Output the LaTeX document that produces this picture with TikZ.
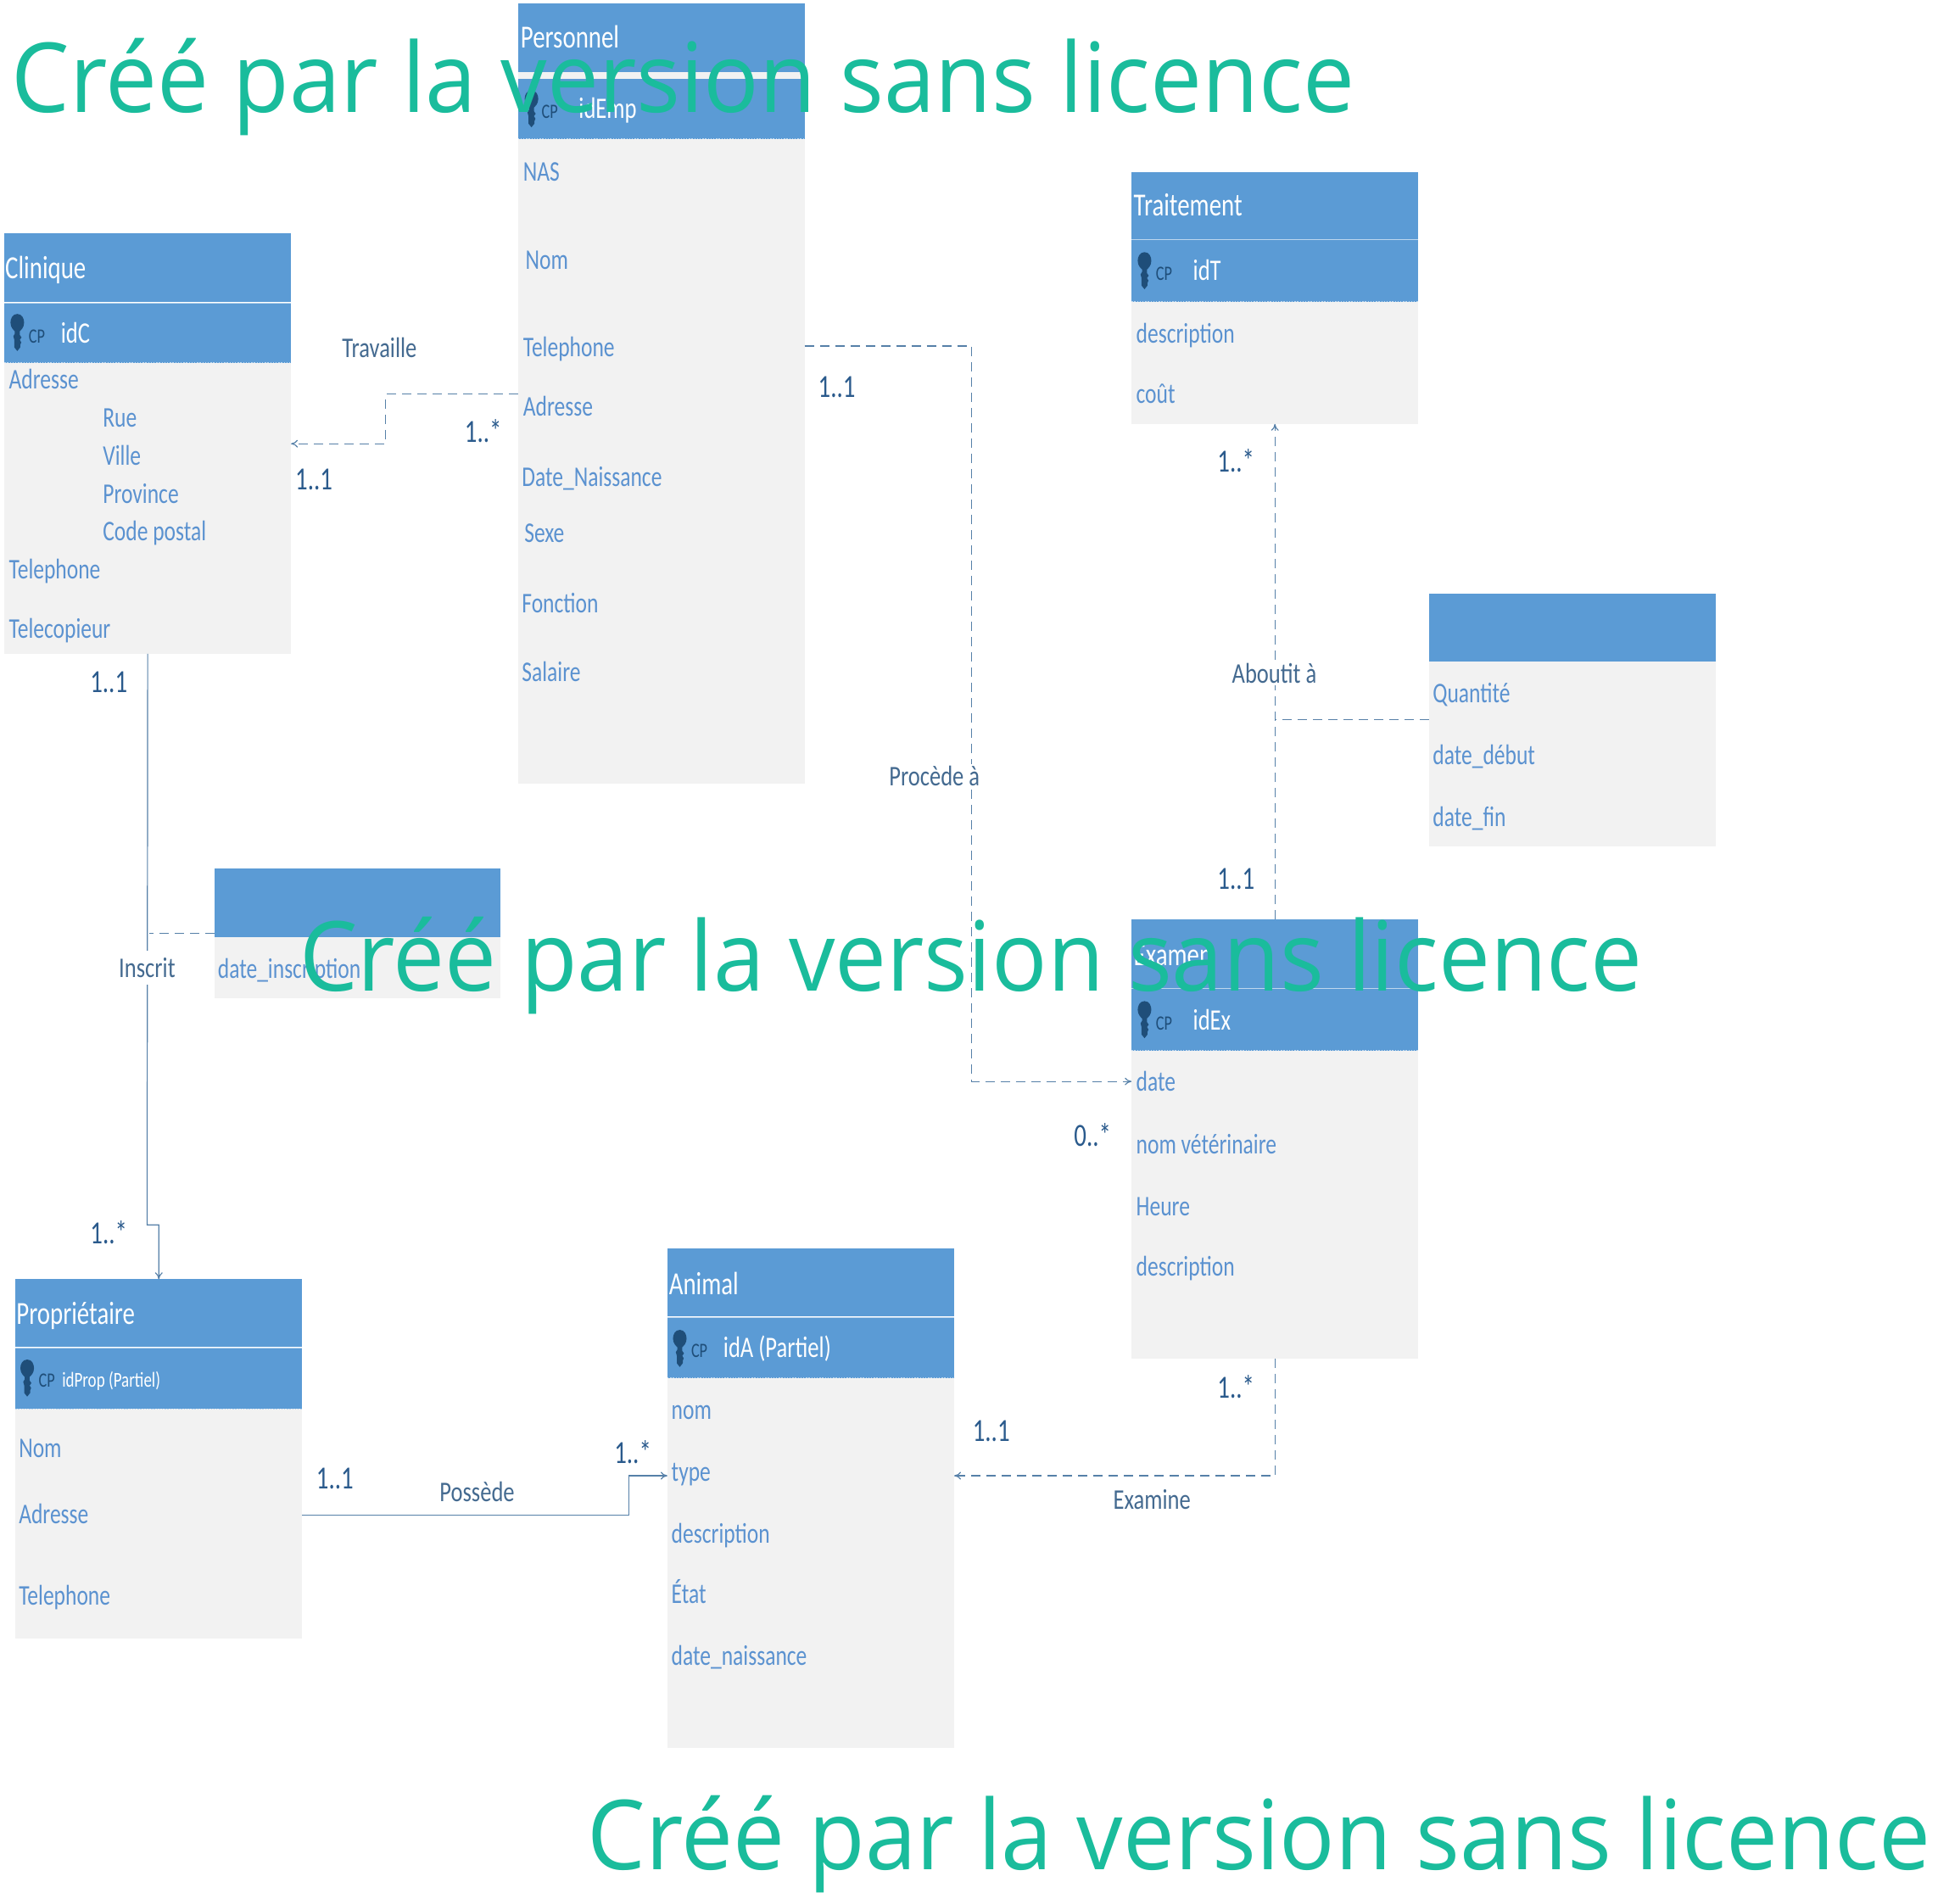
\documentclass[tikz,border=0pt]{standalone}
\usepackage{fontspec}
\usetikzlibrary{arrows.meta}
\setmainfont{Carlito}
\newfontfamily\condfont[FakeStretch=0.76]{Carlito}
\newfontfamily\labelfont[FakeStretch=0.79]{Carlito}
\newfontfamily\wmfont[FakeStretch=0.954]{Open Sans}
\definecolor{hdrblue}{HTML}{5B9BD5}
\definecolor{bodygrey}{HTML}{F2F2F2}
\definecolor{attrblue}{HTML}{5B92D0}
\definecolor{labelslate}{HTML}{446A90}
\definecolor{multblue}{HTML}{2A5A8C}
\definecolor{linkblue}{HTML}{5680A8}
\definecolor{keyblue}{HTML}{1F4E79}
\definecolor{wmgreen}{HTML}{1ABC9C}
\def\uu{0.72865pt}
\newcommand{\zone}[6]{\node[#6,inner sep=0pt,outer sep=0pt,minimum width={(#4-#2)*\uu},minimum height={(#5-#3)*\uu}] (#1) at ({(#2+#4)/2},{(#3+#5)/2}) {};}
\newcommand{\idedges}[1]{\draw[idrule] (#1.north west) -- (#1.north east); \draw[iddots] (#1.south west) -- (#1.south east);}
\tikzset{
  x=\uu,y=-\uu,
  hdr/.style={fill=hdrblue},
  idband/.style={fill=hdrblue},
  bodyzone/.style={fill=bodygrey},
  idrule/.style={draw=white!60!hdrblue,line width=0.5pt},
  iddots/.style={draw=white!60!hdrblue,line width=0.5pt,dash pattern=on 0.7pt off 0.9pt},
  basetext/.style={anchor=west,inner sep=0pt,text height=15pt,text depth=4pt},
  title/.style={basetext,yshift=-0.7pt,text=white,font=\condfont\fontsize{19}{22}\selectfont},
  idtext/.style={basetext,text=white,font=\condfont\fontsize{17.5}{20}\selectfont},
  cptext/.style={basetext,text=keyblue,font=\condfont\fontsize{12}{14}\selectfont},
  attr/.style={basetext,text=attrblue,font=\condfont\fontsize{16.8}{20}\selectfont},
  linklabel/.style={inner sep=1pt,text=labelslate,font=\labelfont\fontsize{16.8}{20}\selectfont},
  masklabel/.style={linklabel,fill=white},
  mult/.style={inner sep=0pt,text=multblue,font=\condfont\fontsize{19}{22}\selectfont},
  solidlink/.style={draw=linkblue,line width=0.6pt},
  dashlink/.style={solidlink,dash pattern=on 5.5pt off 3.5pt},
  tip/.style={-{To[length=4pt,width=4.5pt]}},
  watermark/.style={anchor=base west,inner sep=0pt,text=wmgreen,font=\wmfont\fontsize{57}{60}\selectfont},
  keyicon/.pic={
    \fill[keyblue] (0,-15) .. controls (4,-15) and (5.5,-11) .. (5.5,-8) .. controls (5.5,-4) and (3,-2) .. (2,-1)
      -- (2,2) -- (3.4,4) -- (2,6) -- (3.2,8) -- (2.4,10) -- (2.4,12) -- (0,15) -- (-2.4,12) -- (-2.4,6) -- (-3.2,3) -- (-2,1) -- (-2,-1)
      .. controls (-3,-2) and (-5.5,-4) .. (-5.5,-8) .. controls (-5.5,-11) and (-4,-15) .. (0,-15) -- cycle;
  }
}
\begin{document}
\begin{tikzpicture}
\useasboundingbox (0,0) rectangle (1568,1540.5);

% Personnel
\zone{pHead}{419}{3}{651}{58}{hdr}
\zone{pGap}{419}{58}{651}{64}{bodyzone}
\zone{pId}{419}{64}{651}{112.5}{idband}
\zone{pBody}{419}{112.5}{651}{634}{bodyzone}
\draw[iddots] (pId.south west) -- (pId.south east);
\node[title] (pTitle) at (421,30) {Personnel};
\pic at (430,88) {keyicon};
\node[cptext] (pCp) at (438,88) {CP};
\node[idtext] (pKey) at (468,88) {idEmp};
\node[attr] (pA1) at (423,139) {NAS};
\node[attr] (pA2) at (425,210) {Nom};
\node[attr] (pA3) at (423,281) {Telephone};
\node[attr] (pA4) at (423,329) {Adresse};
\node[attr] (pA5) at (422,386) {Date\_Naissance};
\node[attr] (pA6) at (424,431) {Sexe};
\node[attr] (pA7) at (422,488) {Fonction};
\node[attr] (pA8) at (422,544) {Salaire};

% Clinique
\zone{cHead}{3.5}{189}{235.5}{244.5}{hdr}
\zone{cId}{3.5}{245}{235.5}{293.5}{idband}
\zone{cBody}{3.5}{293.5}{235.5}{529}{bodyzone}
\idedges{cId}
\node[title] (cTitle) at (4,217) {Clinique};
\pic at (14,269) {keyicon};
\node[cptext] (cCp) at (23,270) {CP};
\node[idtext] (cKey) at (49,270) {idC};
\node[attr] (cA1) at (7,307) {Adresse};
\node[attr] (cA2) at (83,338) {Rue};
\node[attr] (cA3) at (83,369) {Ville};
\node[attr] (cA4) at (83,400) {Province};
\node[attr] (cA5) at (83,430) {Code postal};
\node[attr] (cA6) at (7,461) {Telephone};
\node[attr] (cA7) at (7,509) {Telecopieur};

% Traitement
\zone{tHead}{915.5}{139}{1147.5}{193.5}{hdr}
\zone{tId}{915.5}{194}{1147.5}{244}{idband}
\zone{tBody}{915.5}{244}{1147.5}{343}{bodyzone}
\idedges{tId}
\node[title] (tTitle) at (917,166) {Traitement};
\pic at (926,219) {keyicon};
\node[cptext] (tCp) at (935,219) {CP};
\node[idtext] (tKey) at (965,219) {idT};
\node[attr] (tA1) at (919,270) {description};
\node[attr] (tA2) at (919,319) {coût};

% association Aboutit
\zone{abHead}{1156}{480}{1388}{535}{hdr}
\zone{abBody}{1156}{535}{1388}{685}{bodyzone}
\node[attr] (abA1) at (1159,561) {Quantité};
\node[attr] (abA2) at (1159,611) {date\_début};
\node[attr] (abA3) at (1159,661) {date\_fin};

% Examen
\zone{eHead}{915.5}{744}{1147.5}{799.5}{hdr}
\zone{eId}{915.5}{800}{1147.5}{850}{idband}
\zone{eBody}{915.5}{850}{1147.5}{1099}{bodyzone}
\idedges{eId}
\node[title] (eTitle) at (917,773) {Examen};
\pic at (926,825) {keyicon};
\node[cptext] (eCp) at (935,826) {CP};
\node[idtext] (eKey) at (965,826) {idEx};
\node[attr] (eA1) at (919,875) {date};
\node[attr] (eA2) at (919,926) {nom vétérinaire};
\node[attr] (eA3) at (919,976) {Heure};
\node[attr] (eA4) at (919,1025) {description};

% association Inscrit
\zone{inHead}{173.5}{703}{405}{758}{hdr}
\zone{inBody}{173.5}{758}{405}{808}{bodyzone}
\node[attr] (inA1) at (176,784) {date\_inscription};

% Proprietaire
\zone{oHead}{12.5}{1035}{244.5}{1090}{hdr}
\zone{oId}{12.5}{1091}{244.5}{1140}{idband}
\zone{oBody}{12.5}{1140}{244.5}{1326}{bodyzone}
\idedges{oId}
\node[title] (oTitle) at (13,1063) {Propriétaire};
\pic at (22,1115) {keyicon};
\node[cptext] (oCp) at (31,1115) {CP};
\node[basetext,text=white,font=\condfont\fontsize{12.5}{15}\selectfont] (oKey) at (50,1115) {idProp (Partiel)};
\node[attr] (oA1) at (15,1172) {Nom};
\node[attr] (oA2) at (15,1225) {Adresse};
\node[attr] (oA3) at (15,1291) {Telephone};

% Animal
\zone{aHead}{540}{1010}{772}{1065}{hdr}
\zone{aId}{540}{1066}{772}{1115}{idband}
\zone{aBody}{540}{1115}{772}{1414}{bodyzone}
\idedges{aId}
\node[title] (aTitle) at (541,1039) {Animal};
\pic at (550,1091) {keyicon};
\node[cptext] (aCp) at (559,1091) {CP};
\node[idtext] (aKey) at (585,1091) {idA (Partiel)};
\node[attr] (aA1) at (543,1141) {nom};
\node[attr] (aA2) at (543,1191) {type};
\node[attr] (aA3) at (543,1241) {description};
\node[attr] (aA4) at (543,1290) {État};
\node[attr] (aA5) at (543,1340) {date\_naissance};

% connectors
\draw[dashlink,tip] (pBody.west |- 0,319) -- (312,319) -- (312,359) -- (cBody.east |- 0,359);
\draw[dashlink,tip] (pBody.east |- 0,280) -- (786,280) -- (786,875) -- (eBody.west |- 0,875);
\draw[dashlink,tip] (eHead.north) -- (tBody.south);
\coordinate (abJoin) at (eHead.north |- abBody.west);
\draw[dashlink] (abBody.west |- 0,582) -- (abJoin |- 0,582);
\draw[solidlink,tip] (cBody.south) -- (119,991) -- (oHead.north |- 0,991) -- (oHead.north);
\coordinate (inJoin) at (121,755);
\draw[dashlink] (inHead.west |- 0,755) -- (inJoin);
\draw[solidlink,tip] (oBody.east |- 0,1226) -- (509,1226) -- (509,1194) -- (aBody.west |- 0,1194);
\draw[dashlink,tip] (eBody.south) -- (eBody.south |- 0,1194) -- (aBody.east |- 0,1194);

% connector labels
\node[linklabel] (lTrav) at (307,281) {Travaille};
\node[masklabel] (lProc) at (756,628) {Procède à};
\node[masklabel] (lAbou) at (1031,545) {Aboutit à};
\node[masklabel,inner ysep=4pt] (lInsc) at (119,783) {Inscrit};
\node[linklabel] (lPoss) at (386,1207) {Possède};
\node[linklabel] (lExam) at (932,1213) {Examine};

% multiplicities
\node[mult] (m1) at (391,349) {1..*};
\node[mult] (m2) at (254,388) {1..1};
\node[mult] (m3) at (677,313) {1..1};
\node[mult] (m4) at (884,918) {0..*};
\node[mult] (m5) at (1000,373) {1..*};
\node[mult] (m6) at (1000,711) {1..1};
\node[mult] (m7) at (88,552) {1..1};
\node[mult] (m8) at (88,997) {1..*};
\node[mult] (m9) at (271,1196) {1..1};
\node[mult] (m10) at (512,1175) {1..*};
\node[mult] (m11) at (1000,1122) {1..*};
\node[mult] (m12) at (802,1158) {1..1};

% watermarks
\node[watermark] (w1) at (9,91) {Créé par la version sans licence};
\node[watermark] (w2) at (242,802) {Créé par la version sans licence};
\node[watermark] (w3) at (475,1513) {Créé par la version sans licence};
\end{tikzpicture}
\end{document}
